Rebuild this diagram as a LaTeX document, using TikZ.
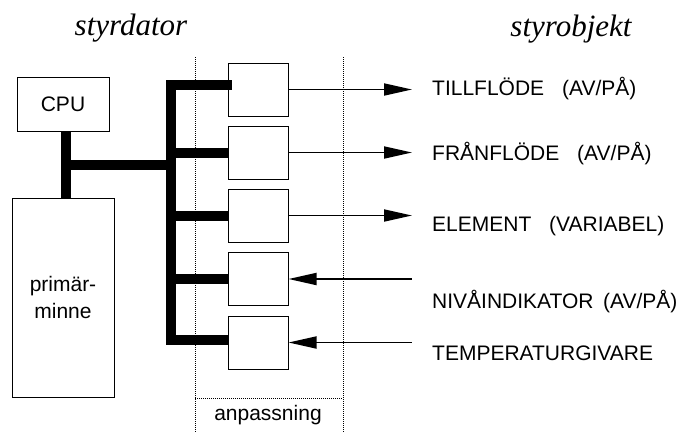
\documentclass[tikz,border=0pt]{standalone}
\usepackage{fontspec}
\setmainfont{Liberation Sans}
\newfontfamily\titlefont{Liberation Serif}
\usetikzlibrary{arrows.meta}

\begin{document}
\begin{tikzpicture}[x=1pt,y=-1pt,>={Triangle[length=28pt,width=12pt]},
  sans/.style={font=\fontsize{21}{25}\selectfont},
  box/.style={draw,line width=1pt,inner sep=0pt,sans},
  unitbox/.style={box,minimum width=60pt,minimum height=53pt},
  bus/.style={line width=10pt,line join=miter},
  sig/.style={line width=1.8pt},
  lbl/.style={anchor=base west,inner sep=0pt,sans},
  heading/.style={anchor=base,inner sep=0pt,font=\titlefont\itshape\fontsize{31}{36}\selectfont},
  sep/.style={line width=0.8pt,dash pattern=on 1pt off 1pt}]
  \useasboundingbox (0,0) rectangle (691,432);

  \node[heading] (left) at (131,35.5) {styrdator};
  \node[heading] (right) at (571,36) {styrobjekt};

  % anpassning
  \draw[sep] (195,57) -- (195,432);
  \draw[sep] (343,57) -- (343,432);
  \draw[sep] (195,398) -- (343,398);
  \node[sans,anchor=base,inner sep=0pt] (adapt) at (268,420) {anpassning};

  \node[box,minimum width=92pt,minimum height=54pt] (cpu) at (63,104) {CPU};
  \node[box,minimum width=102pt,minimum height=199pt,align=center] (mem) at (63,297.5) {prim\"ar-\\[2pt]minne};

  \foreach \n/\y in {1/89.5,2/152.5,3/215.5,4/279,5/342.5} {
    \node[unitbox] (u\n) at (258,\y) {};
  }

  % bussen
  \coordinate (busx) at (171,0);
  \coordinate (tap) at (66,165);
  \draw[bus] ([xshift=3pt]cpu.south) -- ([xshift=3pt]mem.north);
  \draw[bus] (tap) -- (tap -| busx);
  \draw[bus] ([xshift=4pt,yshift=5pt]u1.west) -| ([yshift=3pt]u5.west -| busx) -- ([yshift=3pt]u5.west);
  \foreach \n in {2,3,4} {
    \draw[bus] (u\n.west) -- (u\n.west -| busx);
  }

  % signaler
  \coordinate (ends) at (412,0);
  \foreach \n in {1,2,3} {
    \draw[sig,->] (u\n.east) -- (u\n.east -| ends);
  }
  \foreach \n in {4,5} {
    \draw[sig,<-] (u\n.east) -- (u\n.east -| ends);
  }

  \node[lbl] (l1) at (432,95) {TILLFL\"ODE\hspace{0.85em}(AV/P\AA)};
  \node[lbl] (l2) at (432,160) {FR\AA NFL\"ODE\hspace{0.85em}(AV/P\AA)};
  \node[lbl] (l3) at (432,231) {ELEMENT\hspace{0.85em}(VARIABEL)};
  \node[lbl] (l4) at (432,308) {NIV\AA INDIKATOR\hspace{0.45em}(AV/P\AA)};
  \node[lbl] (l5) at (432,360) {TEMPERATURGIVARE};
\end{tikzpicture}
\end{document}
